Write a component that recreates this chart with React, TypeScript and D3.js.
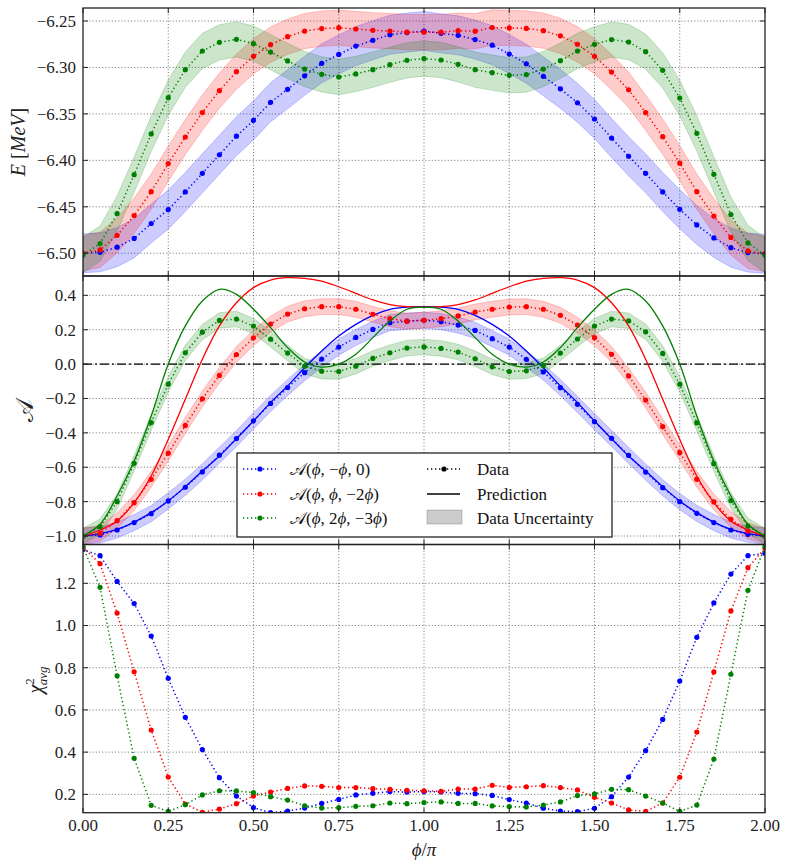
import React from 'react'
import * as d3 from 'd3'

// phi / pi sample grid
const phi = [
  0, 0.05, 0.1, 0.15, 0.2, 0.25, 0.3, 0.35, 0.4, 0.45, 0.5, 0.55, 0.6, 0.65,
  0.7, 0.75, 0.8, 0.85, 0.9, 0.95, 1.0, 1.05, 1.1, 1.15, 1.2, 1.25, 1.3, 1.35,
  1.4, 1.45, 1.5, 1.55, 1.6, 1.65, 1.7, 1.75, 1.8, 1.85, 1.9, 1.95, 2.0,
]

// top panel: E [MeV]
const blueE = [
  -6.5, -6.499, -6.4935, -6.484, -6.468, -6.453, -6.434, -6.414, -6.394, -6.374,
  -6.357, -6.3375, -6.3235, -6.309, -6.2956, -6.286, -6.277, -6.2708, -6.2647,
  -6.2625, -6.2608, -6.2633, -6.2654, -6.27, -6.276, -6.2855, -6.296, -6.3095,
  -6.323, -6.338, -6.3555, -6.376, -6.3956, -6.414, -6.434, -6.4527, -6.4695,
  -6.4835, -6.494, -6.4993, -6.5007,
]
const redE = [
  -6.5, -6.4964, -6.4807, -6.4595, -6.4337, -6.4035, -6.375, -6.3486, -6.325,
  -6.3045, -6.288, -6.2755, -6.2669, -6.2608, -6.2582, -6.2572, -6.2586, -6.26,
  -6.2608, -6.262, -6.262, -6.262, -6.2604, -6.261, -6.257, -6.2575, -6.258,
  -6.2604, -6.266, -6.275, -6.288, -6.305, -6.324, -6.3486, -6.3745, -6.403,
  -6.4337, -6.46, -6.483, -6.4975, -6.5007,
]
const greenE = [
  -6.5018, -6.4896, -6.4573, -6.4154, -6.3716, -6.3325, -6.3024, -6.2823, -6.273,
  -6.2697, -6.2744, -6.2834, -6.293, -6.3017, -6.3074, -6.3103, -6.307, -6.3024,
  -6.297, -6.2923, -6.2905, -6.292, -6.2966, -6.3024, -6.3056, -6.3085, -6.3077,
  -6.3017, -6.2927, -6.2823, -6.2751, -6.27, -6.2726, -6.283, -6.3031, -6.3329,
  -6.3709, -6.415, -6.4584, -6.4889, -6.5022,
]
const errE = [0.021, 0.019, 0.019]

// middle panel: asymmetry data
const blueA = [
  -1.0, -0.994, -0.965, -0.922, -0.87, -0.796, -0.7165, -0.627, -0.53, -0.433,
  -0.33, -0.229, -0.136, -0.05, 0.029, 0.099, 0.155, 0.202, 0.241, 0.25, 0.255,
  0.247, 0.227, 0.196, 0.148, 0.099, 0.028, -0.046, -0.137, -0.234, -0.335,
  -0.432, -0.531, -0.628, -0.719, -0.8, -0.868, -0.922, -0.965, -0.99, -1.0,
]
const redA = [
  -1.0, -0.984, -0.911, -0.806, -0.67, -0.518, -0.357, -0.202, -0.066, 0.056,
  0.153, 0.233, 0.291, 0.322, 0.334, 0.334, 0.319, 0.29, 0.264, 0.25, 0.255,
  0.264, 0.28, 0.303, 0.319, 0.332, 0.334, 0.319, 0.284, 0.227, 0.154, 0.057,
  -0.069, -0.209, -0.364, -0.515, -0.67, -0.802, -0.903, -0.971, -1.0,
]
const greenA = [
  -1.0, -0.946, -0.8, -0.577, -0.34, -0.117, 0.066, 0.186, 0.254, 0.262, 0.221,
  0.145, 0.064, -0.012, -0.041, -0.043, -0.012, 0.033, 0.066, 0.093, 0.1, 0.091,
  0.07, 0.031, -0.016, -0.043, -0.039, -0.01, 0.064, 0.146, 0.221, 0.262, 0.252,
  0.188, 0.062, -0.117, -0.342, -0.579, -0.794, -0.942, -1.0,
]
const errA = [0.047, 0.046, 0.045]

// middle panel: predictions
const bluePred = [
  -1.0, -0.986, -0.961, -0.919, -0.864, -0.796, -0.713, -0.622, -0.535, -0.434,
  -0.331, -0.224, -0.127, -0.021, 0.076, 0.163, 0.231, 0.284, 0.319, 0.332,
  0.334, 0.332, 0.319, 0.284, 0.231, 0.163, 0.076, -0.021, -0.127, -0.224,
  -0.331, -0.434, -0.535, -0.622, -0.713, -0.796, -0.864, -0.919, -0.961, -0.986,
  -1.0,
]
const redPred = [
  -1.0, -0.965, -0.913, -0.806, -0.651, -0.438, -0.205, 0.028, 0.222, 0.357,
  0.445, 0.489, 0.503, 0.499, 0.483, 0.45, 0.412, 0.373, 0.346, 0.334, 0.332,
  0.334, 0.346, 0.373, 0.412, 0.45, 0.483, 0.499, 0.503, 0.489, 0.445, 0.357,
  0.222, 0.028, -0.205, -0.438, -0.651, -0.806, -0.913, -0.965, -1.0,
]
const greenPred = [
  -1.0, -0.932, -0.767, -0.564, -0.302, 0.0, 0.222, 0.367, 0.435, 0.406, 0.319,
  0.212, 0.096, 0.012, -0.017, 0.0, 0.057, 0.154, 0.251, 0.319, 0.332, 0.319,
  0.251, 0.154, 0.057, 0.0, -0.017, 0.012, 0.096, 0.212, 0.319, 0.406, 0.435,
  0.367, 0.222, 0.0, -0.302, -0.564, -0.767, -0.932, -1.0,
]

// bottom panel: chi^2 avg
const blueC = [
  1.36, 1.331, 1.209, 1.104, 0.95, 0.75, 0.565, 0.412, 0.279, 0.192, 0.137,
  0.113, 0.121, 0.135, 0.157, 0.176, 0.197, 0.205, 0.213, 0.211, 0.213, 0.211,
  0.205, 0.203, 0.195, 0.175, 0.159, 0.134, 0.121, 0.118, 0.134, 0.189, 0.282,
  0.407, 0.555, 0.737, 0.944, 1.107, 1.244, 1.331, 1.342,
]
const redC = [
  1.37, 1.293, 1.059, 0.781, 0.505, 0.282, 0.154, 0.115, 0.13, 0.156, 0.192,
  0.211, 0.228, 0.24, 0.238, 0.232, 0.232, 0.227, 0.224, 0.219, 0.217, 0.214,
  0.225, 0.225, 0.243, 0.233, 0.236, 0.241, 0.232, 0.221, 0.186, 0.159, 0.126,
  0.119, 0.159, 0.281, 0.495, 0.78, 1.069, 1.274, 1.366,
]
const greenC = [
  1.374, 1.181, 0.762, 0.371, 0.148, 0.119, 0.151, 0.197, 0.217, 0.216, 0.208,
  0.189, 0.173, 0.146, 0.135, 0.137, 0.143, 0.146, 0.159, 0.156, 0.161, 0.164,
  0.157, 0.157, 0.145, 0.142, 0.14, 0.149, 0.164, 0.194, 0.202, 0.224, 0.222,
  0.192, 0.159, 0.119, 0.149, 0.367, 0.769, 1.167, 1.374,
]

const colors = ['#0000ff', '#ff0000', '#008000']
const xTicks = [0, 0.25, 0.5, 0.75, 1.0, 1.25, 1.5, 1.75, 2.0]
const yTicksE = [-6.5, -6.45, -6.4, -6.35, -6.3, -6.25]
const yTicksA = [-1.0, -0.8, -0.6, -0.4, -0.2, 0.0, 0.2, 0.4]
const yTicksC = [0.2, 0.4, 0.6, 0.8, 1.0, 1.2]

const serif = {fontFamily: "'Liberation Serif', 'DejaVu Serif', serif"}
const X0 = 83
const X1 = 765

const zip = (v: number[]) => phi.map((p, i) => [p, v[i]] as [number, number])

function Panel({id, top, bottom, domain, ticks, fmt, showX, children}: any) {
  const x = d3.scaleLinear().domain([0, 2]).range([X0, X1])
  const y = d3.scaleLinear().domain(domain).range([bottom, top])
  const tl = 5
  return (
    <g>
      <defs>
        <clipPath id={id}>
          <rect x={X0} y={top} width={X1 - X0} height={bottom - top} />
        </clipPath>
      </defs>
      {/* grid */}
      <g stroke="#000" strokeWidth={0.7} strokeDasharray="1,2.2" opacity={0.8}>
        {xTicks.slice(1, -1).map(t => (
          <line key={'gx' + t} x1={x(t)} x2={x(t)} y1={top} y2={bottom} />
        ))}
        {ticks.map((t: number) => (
          <line key={'gy' + t} x1={X0} x2={X1} y1={y(t)} y2={y(t)} />
        ))}
      </g>
      <g clipPath={`url(#${id})`}>{children(x, y)}</g>
      {/* ticks, inward on all sides */}
      <g stroke="#222" strokeWidth={1}>
        {xTicks.map(t => (
          <g key={'tx' + t}>
            <line x1={x(t)} x2={x(t)} y1={bottom} y2={bottom - tl} />
            <line x1={x(t)} x2={x(t)} y1={top} y2={top + tl} />
          </g>
        ))}
        {ticks.map((t: number) => (
          <g key={'ty' + t}>
            <line x1={X0} x2={X0 + tl} y1={y(t)} y2={y(t)} />
            <line x1={X1} x2={X1 - tl} y1={y(t)} y2={y(t)} />
          </g>
        ))}
      </g>
      <rect x={X0} y={top} width={X1 - X0} height={bottom - top} fill="none" stroke="#222" strokeWidth={1.3} />
      <g style={serif} fontSize={17} fill="#222">
        {ticks.map((t: number) => (
          <text key={'ly' + t} x={X0 - 7} y={y(t)} dy="0.35em" textAnchor="end">
            {d3.format(fmt)(t)}
          </text>
        ))}
        {showX &&
          xTicks.map(t => (
            <text key={'lx' + t} x={x(t)} y={bottom + 18} textAnchor="middle">
              {d3.format('.2f')(t)}
            </text>
          ))}
      </g>
    </g>
  )
}

function DataSeries({x, y, values, color}: any) {
  const line = d3.line<[number, number]>().x(d => x(d[0])).y(d => y(d[1]))
  const pts = zip(values)
  return (
    <g>
      <path d={line(pts) || ''} fill="none" stroke={color} strokeWidth={1.5} strokeDasharray="1.3,2.7" />
      {pts.map((d, i) => (
        <circle key={i} cx={x(d[0])} cy={y(d[1])} r={2.6} fill={color} />
      ))}
    </g>
  )
}

function Band({x, y, values, err, color}: any) {
  const area = d3
    .area<[number, number]>()
    .x(d => x(d[0]))
    .y0(d => y(d[1] - err))
    .y1(d => y(d[1] + err))
  return <path d={area(zip(values)) || ''} fill={color} fillOpacity={0.2} stroke={color} strokeOpacity={0.2} strokeWidth={1} />
}

function Prediction({x, y, values, color}: any) {
  const line = d3
    .line<[number, number]>()
    .x(d => x(d[0]))
    .y(d => y(d[1]))
    .curve(d3.curveCatmullRom)
  return <path d={line(zip(values)) || ''} fill="none" stroke={color} strokeWidth={1.3} />
}

const A = '\u{1D49C}'

function LegendLabel({parts}: {parts: [string, boolean][]}) {
  return (
    <>
      {parts.map(([s, it], i) => (
        <tspan key={i} fontStyle={it ? 'italic' : 'normal'}>
          {s}
        </tspan>
      ))}
    </>
  )
}

export default function App() {
  const seriesE = [blueE, redE, greenE]
  const seriesA = [blueA, redA, greenA]
  const preds = [bluePred, redPred, greenPred]
  const seriesC = [blueC, redC, greenC]
  const legendRows = [469, 494, 518]
  const labels: [string, boolean][][] = [
    [[A, false], ['(', false], ['ϕ', true], [', −', false], ['ϕ', true], [', 0)', false]],
    [[A, false], ['(', false], ['ϕ', true], [', ', false], ['ϕ', true], [', −2', false], ['ϕ', true], [')', false]],
    [[A, false], ['(', false], ['ϕ', true], [', 2', false], ['ϕ', true], [', −3', false], ['ϕ', true], [')', false]],
  ]
  return (
    <svg width={789} height={868} style={{position: 'absolute', left: 0, top: 0, background: '#fff'}}>
      <rect width={789} height={868} fill="#fff" />
      <Panel id="cTop" top={8} bottom={276} domain={[-6.5245, -6.236]} ticks={yTicksE} fmt=".2f">
        {(x: any, y: any) => (
          <>
            {seriesE.map((v, i) => (
              <Band key={'b' + i} x={x} y={y} values={v} err={errE[i]} color={colors[i]} />
            ))}
            {seriesE.map((v, i) => (
              <DataSeries key={'d' + i} x={x} y={y} values={v} color={colors[i]} />
            ))}
          </>
        )}
      </Panel>
      <Panel id="cMid" top={276} bottom={544.5} domain={[-1.0494, 0.5125]} ticks={yTicksA} fmt=".1f">
        {(x: any, y: any) => (
          <>
            {seriesA.map((v, i) => (
              <Band key={'b' + i} x={x} y={y} values={v} err={errA[i]} color={colors[i]} />
            ))}
            <line x1={X0} x2={X1} y1={y(0)} y2={y(0)} stroke="#000" strokeWidth={1.4} strokeDasharray="9,3,2,3" />
            {seriesA.map((v, i) => (
              <g key={'s' + i}>
                <DataSeries x={x} y={y} values={v} color={colors[i]} />
                <Prediction x={x} y={y} values={preds[i]} color={colors[i]} />
              </g>
            ))}
          </>
        )}
      </Panel>
      <Panel id="cBot" top={544.5} bottom={812.7} domain={[0.113, 1.384]} ticks={yTicksC} fmt=".1f" showX>
        {(x: any, y: any) => (
          <>
            {seriesC.map((v, i) => (
              <DataSeries key={'d' + i} x={x} y={y} values={v} color={colors[i]} />
            ))}
          </>
        )}
      </Panel>

      {/* legend */}
      <g style={serif} fontSize={17} fill="#111">
        <rect x={237} y={453} width={375} height={84} fill="#fff" stroke="#111" strokeWidth={1.2} />
        {legendRows.map((ry, i) => (
          <g key={'lg' + i}>
            <line x1={243} x2={276} y1={ry} y2={ry} stroke={colors[i]} strokeWidth={1.5} strokeDasharray="1.3,2.7" />
            <circle cx={260} cy={ry} r={2.6} fill={colors[i]} />
            <text x={290} y={ry} dy="0.35em">
              <LegendLabel parts={labels[i]} />
            </text>
          </g>
        ))}
        <line x1={427} x2={460} y1={469} y2={469} stroke="#000" strokeWidth={1.5} strokeDasharray="1.3,2.7" />
        <circle cx={444} cy={469} r={2.6} fill="#000" />
        <text x={477} y={469} dy="0.35em">Data</text>
        <line x1={427} x2={460} y1={494} y2={494} stroke="#000" strokeWidth={1.4} />
        <text x={477} y={494} dy="0.35em">Prediction</text>
        <rect x={427} y={510} width={35} height={14} fill="#000" fillOpacity={0.2} stroke="#000" strokeOpacity={0.2} />
        <text x={477} y={518} dy="0.35em">Data Uncertainty</text>
      </g>

      {/* axis labels */}
      <g style={serif} fill="#222">
        <text transform="translate(25,142) rotate(-90)" textAnchor="middle" fontSize={20}>
          <tspan fontStyle="italic">E</tspan>
          <tspan> [</tspan>
          <tspan fontStyle="italic">MeV</tspan>
          <tspan>]</tspan>
        </text>
        <text transform="translate(33,410) rotate(-90)" textAnchor="middle" fontSize={24}>
          {A}
        </text>
        <text transform="translate(42,680) rotate(-90)" textAnchor="middle" fontSize={20}>
          <tspan fontStyle="italic">χ</tspan>
          <tspan fontSize={13} dy={-8}>2</tspan>
          <tspan fontSize={13} fontStyle="italic" dx={-7} dy={13}>avg</tspan>
        </text>
        <text x={424} y={856} textAnchor="middle" fontSize={19}>
          <tspan fontStyle="italic">ϕ</tspan>
          <tspan>/</tspan>
          <tspan fontStyle="italic">π</tspan>
        </text>
      </g>
    </svg>
  )
}
